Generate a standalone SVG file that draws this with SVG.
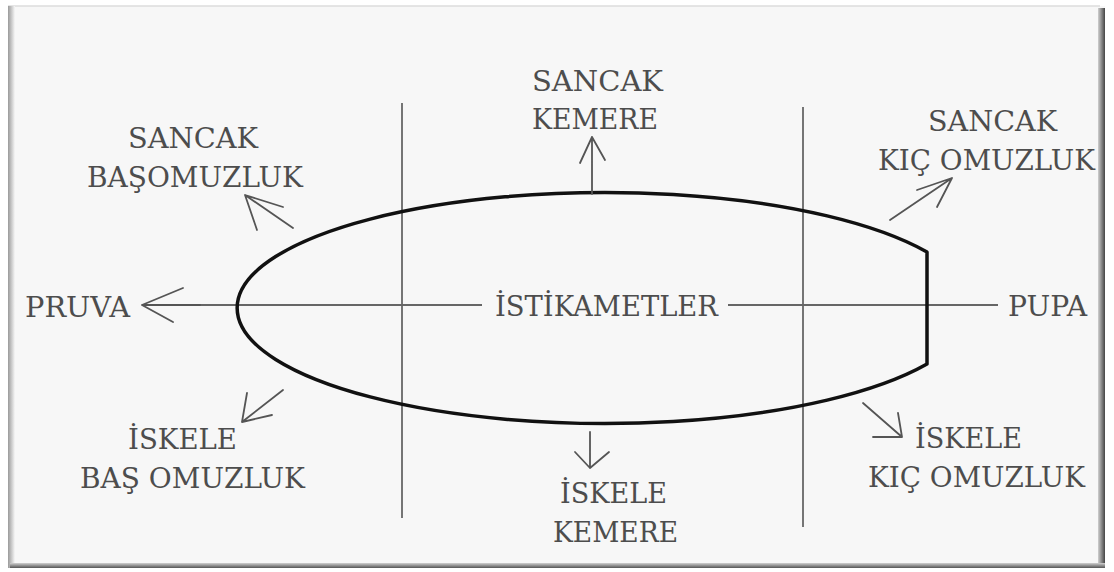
<svg xmlns="http://www.w3.org/2000/svg" width="1114" height="572" viewBox="0 0 1114 572">
  <defs>
    <linearGradient id="gl" x1="0" y1="0" x2="1" y2="0">
      <stop offset="0" stop-color="#9a9a9a"/>
      <stop offset="1" stop-color="#f7f7f7"/>
    </linearGradient>
    <linearGradient id="gr" x1="0" y1="0" x2="1" y2="0">
      <stop offset="0" stop-color="#d0d0d0"/>
      <stop offset="1" stop-color="#444"/>
    </linearGradient>
    <linearGradient id="gb" x1="0" y1="0" x2="0" y2="1">
      <stop offset="0" stop-color="#d0d0d0"/>
      <stop offset="1" stop-color="#555"/>
    </linearGradient>
    <style>
      .t { font-family: "DejaVu Serif", "Liberation Serif", serif; font-size: 27px; fill: #4d4d4d; }
      .g { stroke: #666; stroke-width: 1.8; fill: none; }
      .a { stroke: #555; stroke-width: 1.8; fill: none; stroke-linecap: round; stroke-linejoin: round; }
      .hull { stroke: #111; stroke-width: 3.5; fill: none; stroke-linejoin: round; }
    </style>
  </defs>
  <rect x="0" y="0" width="1114" height="572" fill="#ffffff"/>
  <g id="frame">
    <rect x="8" y="6" width="1097" height="562" fill="#f7f7f7"/>
    <line x1="8" y1="6" x2="1100" y2="6" stroke="#dcdcdc" stroke-width="1.5"/>
    <rect x="8" y="6" width="7" height="562" fill="url(#gl)"/>
    <rect x="1098" y="8" width="7" height="560" fill="url(#gr)"/>
    <rect x="10" y="563" width="1095" height="5" fill="url(#gb)"/>
  </g>
  <g id="axes">
    <line class="g" x1="142" y1="305" x2="482" y2="305"/>
    <line class="g" x1="728" y1="305" x2="998" y2="305"/>
    <line class="g" x1="402" y1="103" x2="402" y2="518"/>
    <line class="g" x1="803" y1="107" x2="803" y2="527"/>
  </g>
  <g id="hull">
    <path class="hull" d="M 927 252 A 368 115.5 0 1 0 927 364 Z"/>
  </g>
  <g id="connectors">
    <path class="a" d="M 293 228 L 245 195 M 257 230 L 245 195 L 283 207"/>
    <path class="a" d="M 592 194 L 592 137 M 580 163 L 592 137 L 605 160"/>
    <path class="a" d="M 890 220 L 952 178 M 917 190 L 952 178 L 937 207"/>
    <path class="a" d="M 142 305 L 200 305 M 183 288 L 142 305 L 173 322"/>
    <path class="a" d="M 283 390 L 242 422 M 247 393 L 242 422 L 272 415"/>
    <path class="a" d="M 590 432 L 590 468 M 575 452 L 590 468 L 609 452"/>
    <path class="a" d="M 863 403 L 902 437 M 873 437 L 902 437 L 898 413"/>
  </g>
  <g id="sancak-basomuzluk">
    <text class="t" x="128" y="148" textLength="130" lengthAdjust="spacingAndGlyphs">SANCAK</text>
    <text class="t" x="87" y="187" textLength="216" lengthAdjust="spacingAndGlyphs">BAŞOMUZLUK</text>
  </g>
  <g id="sancak-kemere">
    <text class="t" x="532" y="91" textLength="131" lengthAdjust="spacingAndGlyphs">SANCAK</text>
    <text class="t" x="532" y="129" textLength="126" lengthAdjust="spacingAndGlyphs">KEMERE</text>
  </g>
  <g id="sancak-kic-omuzluk">
    <text class="t" x="928" y="131" textLength="129" lengthAdjust="spacingAndGlyphs">SANCAK</text>
    <text class="t" x="878" y="170" textLength="217" lengthAdjust="spacingAndGlyphs">KIÇ OMUZLUK</text>
  </g>
  <g id="pruva">
    <text class="t" x="25" y="317" textLength="105" lengthAdjust="spacingAndGlyphs">PRUVA</text>
  </g>
  <g id="istikametler">
    <text class="t" x="495" y="316" textLength="223" lengthAdjust="spacingAndGlyphs">İSTİKAMETLER</text>
  </g>
  <g id="pupa">
    <text class="t" x="1008" y="316" textLength="79" lengthAdjust="spacingAndGlyphs">PUPA</text>
  </g>
  <g id="iskele-bas-omuzluk">
    <text class="t" x="128" y="449" textLength="109" lengthAdjust="spacingAndGlyphs">İSKELE</text>
    <text class="t" x="80" y="488" textLength="225" lengthAdjust="spacingAndGlyphs">BAŞ OMUZLUK</text>
  </g>
  <g id="iskele-kemere">
    <text class="t" x="560" y="503" textLength="107" lengthAdjust="spacingAndGlyphs">İSKELE</text>
    <text class="t" x="553" y="542" textLength="125" lengthAdjust="spacingAndGlyphs">KEMERE</text>
  </g>
  <g id="iskele-kic-omuzluk">
    <text class="t" x="915" y="448" textLength="107" lengthAdjust="spacingAndGlyphs">İSKELE</text>
    <text class="t" x="868" y="487" textLength="217" lengthAdjust="spacingAndGlyphs">KIÇ OMUZLUK</text>
  </g>
</svg>
